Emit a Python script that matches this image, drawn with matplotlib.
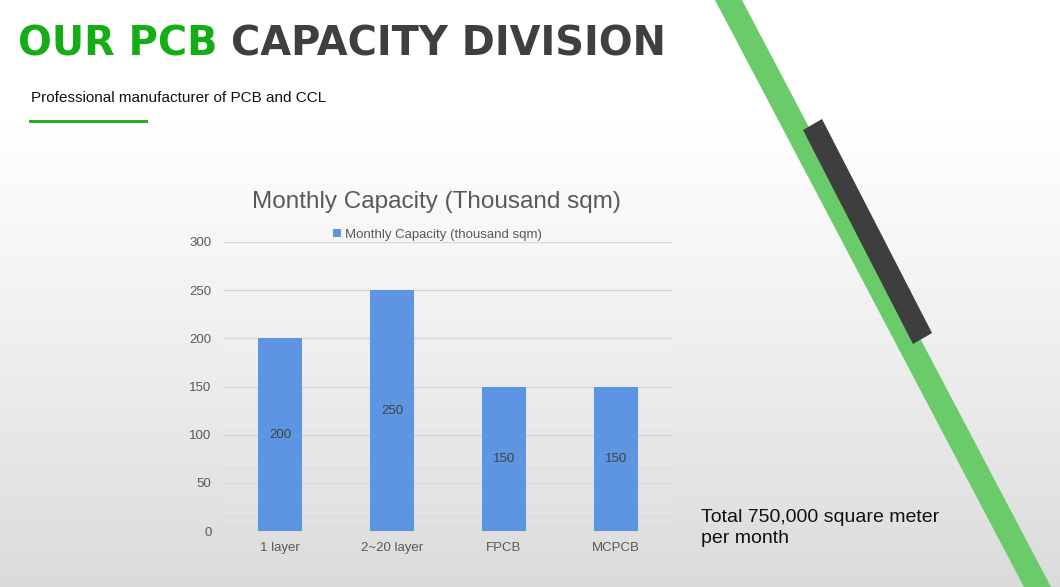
import numpy as np
import matplotlib.pyplot as plt
from matplotlib.patches import Polygon, Rectangle

plt.rcParams['font.family'] = ['Liberation Sans', 'DejaVu Sans']

categories = ['1 layer', '2~20 layer', 'FPCB', 'MCPCB']
capacity = [200, 250, 150, 150]
y_ticks = [0, 50, 100, 150, 200, 250, 300]

W, H = 1060, 587
fig = plt.figure(figsize=(W / 100, H / 100), dpi=100)

# slide background in pixel coordinates
bg = fig.add_axes([0, 0, 1, 1], zorder=-1)
bg.set_xlim(0, W)
bg.set_ylim(H, 0)
bg.axis('off')
grad = np.ones((H, 1))
rows = np.arange(H)
start = 105
grad[start:, 0] = 1 - ((rows[start:] - start) / (H - start)) ** 1.1 * 0.145
bg.imshow(grad, cmap='gray', vmin=0, vmax=1, extent=[0, W, H, 0], aspect='auto')

# diagonal stripe and dark bar
bg.add_patch(Polygon([(715, 0), (742, 0), (1051, 587), (1024, 587)],
                     closed=True, color='#6acb6a', lw=0))
bg.add_patch(Polygon([(803, 130), (822, 119), (932, 333), (913, 344)],
                     closed=True, color='#3e3e3e', lw=0))

# header, fitted to the width of the original heading
t1 = fig.text(18 / W, 1 - 45 / H, 'OUR PCB ', fontsize=26, fontweight='bold',
              family='DejaVu Sans', color='#15ad15', va='center', ha='left')
t2 = fig.text(0, 1 - 45 / H, 'CAPACITY DIVISION', fontsize=26, fontweight='bold',
              family='DejaVu Sans', color='#3f3f3f', va='center', ha='left')
r = fig.canvas.get_renderer()
w_total = t1.get_window_extent(r).width + t2.get_window_extent(r).width
size = 26 * 650 / w_total
t1.set_fontsize(size)
t2.set_fontsize(size)
t2.set_x((18 + t1.get_window_extent(r).width) / W)

fig.text(31 / W, 1 - 98 / H, 'Professional manufacturer of PCB and CCL',
         fontsize=11, color='#111111', va='center', ha='left')
bg.add_patch(Rectangle((29, 119.5), 119, 3, color='#22b022', lw=0))

fig.text(701 / W, 1 - 528 / H, 'Total 750,000 square meter\nper month',
         fontsize=14, color='#111111', va='center', ha='left', linespacing=1.32)

# chart
ax = fig.add_axes([224 / W, (H - 531) / H, 448 / W, 289 / H])
ax.patch.set_alpha(0)
x = np.arange(len(categories))
bars = ax.bar(x, capacity, width=0.39, color='#5e95e2',
              label='Monthly Capacity (thousand sqm)', zorder=3)
for rect, v in zip(bars, capacity):
    ax.text(rect.get_x() + rect.get_width() / 2, v / 2, str(v), ha='center',
            va='center', fontsize=9.5, color='#404040', zorder=4)

ax.set_xlim(-0.5, len(categories) - 0.5)
ax.set_ylim(0, 300)
ax.set_yticks(y_ticks)
ax.set_yticks(np.arange(0, 301, 10), minor=True)
ax.set_xticks(x)
ax.set_xticklabels(categories)
ax.tick_params(axis='both', length=0, labelsize=9.5, labelcolor='#595959')
ax.tick_params(axis='y', pad=9)
ax.tick_params(axis='x', pad=8)
ax.tick_params(axis='y', which='minor', length=0)
ax.grid(axis='y', which='major', color='#d6d6d6', lw=0.9, zorder=0)
ax.grid(axis='y', which='minor', color='#f4f4f4', lw=0.5, alpha=0.5, zorder=0)
for s in ax.spines.values():
    s.set_visible(False)

fig.text(436 / W, 1 - 202 / H, 'Monthly Capacity (Thousand sqm)', fontsize=17.5,
         color='#595959', ha='center', va='center')
ax.legend(loc='center', bbox_to_anchor=(0.477, 1.025), frameon=False, fontsize=9.5,
          handlelength=0.6, handleheight=0.6, handletextpad=0.3, labelcolor='#595959',
          borderaxespad=0)

fig.savefig('out.png', dpi=100)
